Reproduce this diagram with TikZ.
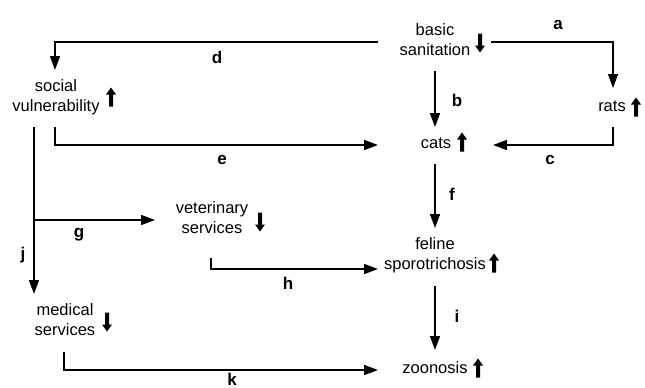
\documentclass[tikz,border=0pt]{standalone}
\usepackage{fontspec}
\setmainfont{Liberation Sans}
\usetikzlibrary{arrows.meta}
\begin{document}
\begin{tikzpicture}[x=1pt,y=-1pt,
  lbl/.style={font=\fontsize{16.5}{20}\selectfont, align=center, inner sep=0pt},
  let/.style={font=\fontsize{17}{20}\selectfont\bfseries, inner sep=0pt},
  conn/.style={line width=1.6pt, -{Triangle[length=14pt,width=10pt]}},
  plain/.style={line width=1.6pt},
  upar/.pic={\fill (0,-9.5) -- (5,-2.5) -- (2,-2.5) -- (2,9.5) -- (-2,9.5) -- (-2,-2.5) -- (-5,-2.5) -- cycle;},
  downar/.pic={\fill (0,9.5) -- (5,2.5) -- (2,2.5) -- (2,-9.5) -- (-2,-9.5) -- (-2,2.5) -- (-5,2.5) -- cycle;}
]
\useasboundingbox (0,0) rectangle (645,388);
% text nodes
\node[lbl] (bs) at (435,40) {basic\\sanitation};
\node[lbl] (sv) at (56,97) {social\\vulnerability};
\node[lbl] (rats) at (612,106) {rats};
\node[lbl] (cats) at (436,143) {cats};
\node[lbl] (vet) at (212,218) {veterinary\\services};
\node[lbl] (fs) at (435,255) {feline\\sporotrichosis};
\node[lbl] (med) at (65,320) {medical\\services};
\node[lbl] (zoo) at (435,368) {zoonosis};
% trend icons
\pic (bsar) at (480,43) {downar};
\pic (svar) at (111,97) {upar};
\pic (ratsar) at (636,107) {upar};
\pic (catsar) at (462,142) {upar};
\pic (vetar) at (260,222) {downar};
\pic (fsar) at (494,263) {upar};
\pic (medar) at (107,322) {downar};
\pic (zooar) at (478,368) {upar};
% connector points
\coordinate (dS) at (378,42);
\coordinate (dE) at (55,70);
\coordinate (aS) at (491,42);
\coordinate (aE) at (613,88);
\coordinate (bS) at (435,71);
\coordinate (bE) at (435,127);
\coordinate (cS) at (613,127);
\coordinate (cE) at (493,145);
\coordinate (eS) at (55,127);
\coordinate (eE) at (378,145);
\coordinate (jS) at (34,127);
\coordinate (jE) at (34,294);
\coordinate (gS) at (34,220);
\coordinate (gE) at (155,220);
\coordinate (hS) at (211,258);
\coordinate (hE) at (378,269);
\coordinate (fS) at (435,164);
\coordinate (fE) at (435,228);
\coordinate (iS) at (435,286);
\coordinate (iE) at (435,350);
\coordinate (kS) at (64,352);
\coordinate (kE) at (378,370);
% connectors
\draw[conn] (dS) -| (dE);
\draw[conn] (aS) -| (aE);
\draw[conn] (bS) -- (bE);
\draw[conn] (cS) |- (cE);
\draw[conn] (eS) |- (eE);
\draw[conn] (jS) -- (jE);
\draw[conn] (gS) -- (gE);
\draw[conn] (hS) |- (hE);
\draw[conn] (fS) -- (fE);
\draw[conn] (iS) -- (iE);
\draw[conn] (kS) |- (kE);
% labels
\node[let] (la) at (558,25) {a};
\node[let] (lb) at (457,100) {b};
\node[let] (lc) at (550,160) {c};
\node[let] (ld) at (217,57) {d};
\node[let] (le) at (222,160) {e};
\node[let] (lf) at (452,194) {f};
\node[let] (lg) at (79,235) {g};
\node[let] (lh) at (288,283) {h};
\node[let] (li) at (457,316) {i};
\node[let] (lj) at (23,255) {j};
\node[let] (lk) at (232,379) {k};
\end{tikzpicture}
\end{document}
